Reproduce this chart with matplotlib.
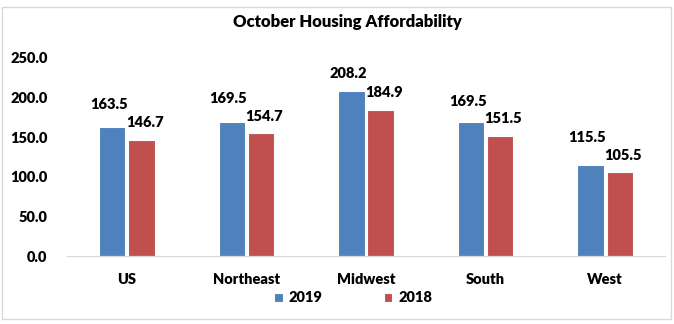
import matplotlib
matplotlib.use('Agg')
import matplotlib.pyplot as plt
from matplotlib.patches import Rectangle
import numpy as np

regions = ["US", "Northeast", "Midwest", "South", "West"]
vals_2019 = [163.5, 169.5, 208.2, 169.5, 115.5]
vals_2018 = [146.7, 154.7, 184.9, 151.5, 105.5]

BLUE = '#4F81BD'
RED = '#C0504D'
WT = 'heavy'

plt.rcParams['font.family'] = ['Lato', 'DejaVu Sans']
plt.rcParams['font.weight'] = WT

fig = plt.figure(figsize=(6.74, 3.24), dpi=100)
ax = fig.add_axes([67 / 674, 68 / 324, 598 / 674, 198 / 324])

x = np.arange(len(regions))
w = 0.22
b1 = ax.bar(x - w / 2 - 0.012, vals_2019, w, color=BLUE, edgecolor='white', linewidth=0.8, label='2019')
b2 = ax.bar(x + w / 2 + 0.012, vals_2018, w, color=RED, edgecolor='white', linewidth=0.8, label='2018')

# labels: red just above its bar, blue pushed up if it would collide
off = 22
for i in range(len(regions)):
    y_red = vals_2018[i] + off
    y_blue = max(vals_2019[i] + off, y_red + 22)
    ax.text(x[i] - w / 2 - 0.04, y_blue, f"{vals_2019[i]:.1f}", ha='center', va='center',
            fontsize=10.5, fontweight=WT, color='black')
    ax.text(x[i] + w / 2 + 0.04, y_red, f"{vals_2018[i]:.1f}", ha='center', va='center',
            fontsize=10.5, fontweight=WT, color='black')

ax.set_xlim(-0.5, len(regions) - 0.5)
ax.set_ylim(0, 250)
ax.set_yticks(np.arange(0, 251, 50))
ax.set_yticklabels([f"{v:.1f}" for v in np.arange(0, 251, 50)], fontsize=10.5, fontweight=WT)
ax.set_xticks(x)
ax.set_xticklabels(regions, fontsize=10.5, fontweight=WT)
ax.tick_params(axis='both', length=0, colors='#000000')
ax.tick_params(axis='x', pad=12)
ax.tick_params(axis='y', pad=14)
for s in ['top', 'right', 'left']:
    ax.spines[s].set_visible(False)
ax.spines['bottom'].set_color('#d9d9d9')

fig.text(347 / 674, 1 - 22 / 324, 'October Housing Affordability', ha='center', va='center',
         fontsize=12, fontweight=WT)

fig.legend(handles=[b1, b2], labels=['2019', '2018'], loc='center', bbox_to_anchor=(353 / 674, 1 - 298 / 324),
           ncol=2, frameon=False, handlelength=0.6, handleheight=0.6, columnspacing=4.2,
           handletextpad=0.4, prop={'weight': WT, 'size': 10.5})

fig.patches.append(Rectangle((2 / 674, 1 - 319 / 324), 669 / 674, 312 / 324, transform=fig.transFigure,
                             fill=False, edgecolor='#d9d9d9', linewidth=1))

fig.savefig('out.png', dpi=100)
